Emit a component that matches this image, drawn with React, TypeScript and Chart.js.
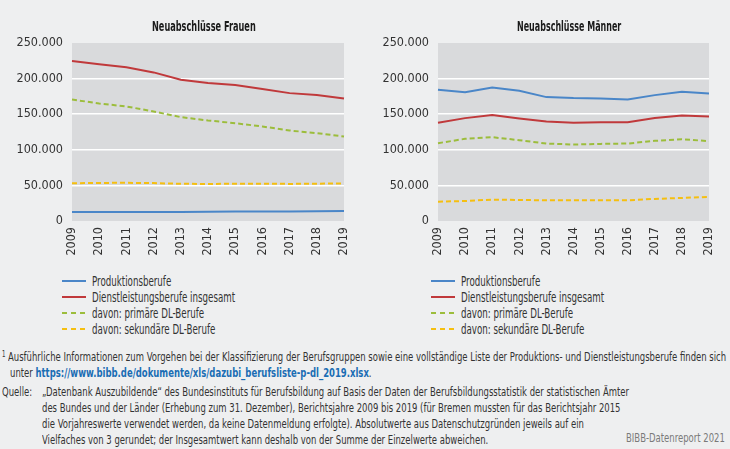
import { useEffect, useLayoutEffect, useRef, useState } from 'react';
import Chart from 'chart.js/auto';

const FONT = '"DejaVu Sans Condensed", "Liberation Sans Narrow", sans-serif';
const PAGE_BG = '#eeeff0';
const PLOT_BG = '#d9dadc';
const TEXT = '#333333';

const BLUE = '#4a86c8';
const RED = '#c0393b';
const GREEN = '#9cbd3c';
const YELLOW = '#f5bf10';

const years = ['2009', '2010', '2011', '2012', '2013', '2014', '2015', '2016', '2017', '2018', '2019'];
const yMax = 250000;
const yStep = 50000;

const seriesLabels = [
  'Produktionsberufe',
  'Dienstleistungsberufe insgesamt',
  'davon: primäre DL-Berufe',
  'davon: sekundäre DL-Berufe',
];

// Neuabschlüsse Frauen
const frauenProduktion = [12700, 12500, 12500, 12800, 12600, 13000, 13200, 13500, 13300, 13700, 14000];
const frauenDienstleistung = [224700, 220000, 215800, 208700, 198400, 193700, 190900, 185300, 179600, 176800, 172100];
const frauenPrimaer = [170700, 165000, 160900, 153800, 145900, 141200, 137400, 132700, 127100, 123400, 118700];
const frauenSekundaer = [53000, 53500, 53600, 53200, 52300, 52000, 52400, 52400, 52100, 52400, 52800];

// Neuabschlüsse Männer
const maennerProduktion = [184300, 181000, 187600, 182900, 174000, 172600, 172100, 170700, 176800, 181500, 179200];
const maennerDienstleistung = [137900, 144500, 148700, 144000, 139800, 137900, 138800, 138800, 144500, 148200, 146800];
const maennerPrimaer = [109300, 115400, 117700, 113500, 108800, 107400, 108300, 108800, 112600, 114900, 112100];
const maennerSekundaer = [27200, 28100, 30000, 29500, 29100, 29100, 29100, 29100, 31000, 32400, 33800];

const seriesColors = [BLUE, RED, GREEN, YELLOW];
const seriesDashed = [false, false, true, true];

function formatDe(v: number) {
  return String(v).replace(/\B(?=(\d{3})+(?!\d))/g, '.');
}

// squeeze a text horizontally so that its measured line gets the target width
function useSqueeze(target: number) {
  const ref = useRef<HTMLSpanElement>(null);
  const [k, setK] = useState(1);
  useLayoutEffect(() => {
    if (ref.current) setK(target / ref.current.offsetWidth);
  }, [target]);
  return [ref, k] as const;
}

const plotBg = {
  id: 'plotBg',
  beforeDraw(chart: any) {
    const { ctx, chartArea: a } = chart;
    ctx.save();
    ctx.fillStyle = PLOT_BG;
    ctx.fillRect(a.left, a.top, a.width, a.height);
    ctx.restore();
  },
};

interface PanelProps {
  left: number;
  title: string;
  titleLeft: number;
  padLeft: number;
  padRight: number;
  values: number[][];
}

function Panel({ left, title, titleLeft, padLeft, padRight, values }: PanelProps) {
  const canvasRef = useRef<HTMLCanvasElement>(null);
  const [titleRef, tk] = useSqueeze(104);

  useEffect(() => {
    if (!canvasRef.current) return;
    const chart = new Chart(canvasRef.current, {
      type: 'line',
      data: {
        labels: years,
        datasets: values.map((d, i) => ({
          label: seriesLabels[i],
          data: d,
          borderColor: seriesColors[i],
          backgroundColor: seriesColors[i],
          borderWidth: 2,
          borderDash: seriesDashed[i] ? [5, 3] : [],
          pointRadius: 0,
          tension: 0,
          fill: false,
        })),
      },
      options: {
        animation: false,
        responsive: true,
        maintainAspectRatio: false,
        layout: { padding: { left: padLeft, right: padRight, top: 43, bottom: 0 } },
        plugins: { legend: { display: false }, tooltip: { enabled: false } },
        scales: {
          x: {
            offset: false,
            grid: { display: false, drawTicks: false },
            border: { display: false },
            ticks: {
              minRotation: 90,
              maxRotation: 90,
              padding: 6,
              color: TEXT,
              font: { family: FONT, size: 12.5 },
            },
            afterFit: (s: any) => { s.height = 39; },
          },
          y: {
            min: 0,
            max: yMax,
            grid: {
              color: (c: any) => (c.tick && (c.tick.value === 0 || c.tick.value === yMax) ? 'rgba(0,0,0,0)' : '#ffffff'),
              lineWidth: 1.5,
              drawTicks: false,
            },
            border: { display: false },
            ticks: {
              stepSize: yStep,
              padding: 9,
              color: TEXT,
              font: { family: FONT, size: 12.5 },
              callback: (v: any) => formatDe(Number(v)),
            },
            afterFit: (s: any) => { s.width = 62; },
          },
        },
      },
      plugins: [plotBg],
    });
    return () => chart.destroy();
  }, [values, padLeft, padRight]);

  return (
    <>
      <div style={{ position: 'absolute', left, top: 0, width: 365, height: 260 }}>
        <canvas ref={canvasRef}></canvas>
      </div>
      <span
        ref={titleRef}
        style={{
          position: 'absolute',
          left: titleLeft,
          top: 17,
          whiteSpace: 'nowrap',
          fontWeight: 'bold',
          fontSize: 14,
          lineHeight: '18px',
          color: '#1a1a1a',
          transform: `scaleX(${tk})`,
          transformOrigin: 'left',
        }}
      >
        {title}
      </span>
    </>
  );
}

function Legend({ left }: { left: number }) {
  const [ref, k] = useSqueeze(143);
  return (
    <div style={{ position: 'absolute', left, top: 273 }}>
      {seriesLabels.map((l, i) => (
        <div key={l} style={{ display: 'flex', alignItems: 'center', height: 16, fontSize: 13.5, color: TEXT }}>
          <svg width={24} height={4} style={{ marginRight: 6 }}>
            <line
              x1={0}
              y1={2}
              x2={24}
              y2={2}
              stroke={seriesColors[i]}
              strokeWidth={2}
              strokeDasharray={seriesDashed[i] ? '5 4' : undefined}
            />
          </svg>
          <span
            ref={i === 1 ? ref : undefined}
            style={{ whiteSpace: 'nowrap', transform: `scaleX(${k})`, transformOrigin: 'left' }}
          >
            {l}
          </span>
        </div>
      ))}
    </div>
  );
}

function Notes() {
  const [ref, k] = useSqueeze(718);
  const line = (left: number, top: number): React.CSSProperties => ({
    position: 'absolute',
    left,
    top,
    fontSize: 12.5,
    lineHeight: '16px',
    color: TEXT,
    whiteSpace: 'nowrap',
    transform: `scaleX(${k})`,
    transformOrigin: 'left',
  });
  return (
    <>
      <span style={{ ...line(2, 347), fontSize: 8 }}>1</span>
      <span ref={ref} style={line(8, 349)}>
        Ausführliche Informationen zum Vorgehen bei der Klassifizierung der Berufsgruppen sowie eine vollständige Liste der Produktions- und Dienstleistungsberufe finden sich
      </span>
      <span style={line(10, 365)}>
        unter <span style={{ color: '#1a6db4', fontWeight: 'bold' }}>https://www.bibb.de/dokumente/xls/dazubi_berufsliste-p-dl_2019.xlsx</span>.
      </span>
      <span style={line(2, 384)}>Quelle:</span>
      <span style={line(42, 384)}>
        „Datenbank Auszubildende“ des Bundesinstituts für Berufsbildung auf Basis der Daten der Berufsbildungsstatistik der statistischen Ämter
      </span>
      <span style={line(42, 400)}>
        des Bundes und der Länder (Erhebung zum 31. Dezember), Berichtsjahre 2009 bis 2019 (für Bremen mussten für das Berichtsjahr 2015
      </span>
      <span style={line(42, 416)}>
        die Vorjahreswerte verwendet werden, da keine Datenmeldung erfolgte). Absolutwerte aus Datenschutzgründen jeweils auf ein
      </span>
      <span style={line(42, 432)}>
        Vielfaches von 3 gerundet; der Insgesamtwert kann deshalb von der Summe der Einzelwerte abweichen.
      </span>
      <span style={{ ...line(626, 430), color: '#7a7a7a' }}>BIBB-Datenreport 2021</span>
    </>
  );
}

export default function App() {
  useEffect(() => {
    document.body.style.margin = '0';
  }, []);

  return (
    <div style={{ position: 'relative', width: 730, height: 449, background: PAGE_BG, fontFamily: FONT, overflow: 'hidden' }}>
      <Panel
        left={0}
        title="Neuabschlüsse Frauen"
        titleLeft={152}
        padLeft={10}
        padRight={21}
        values={[frauenProduktion, frauenDienstleistung, frauenPrimaer, frauenSekundaer]}
      />
      <Panel
        left={365}
        title="Neuabschlüsse Männer"
        titleLeft={517}
        padLeft={11}
        padRight={15}
        values={[maennerProduktion, maennerDienstleistung, maennerPrimaer, maennerSekundaer]}
      />
      <Legend left={62} />
      <Legend left={431} />
      <Notes />
    </div>
  );
}
